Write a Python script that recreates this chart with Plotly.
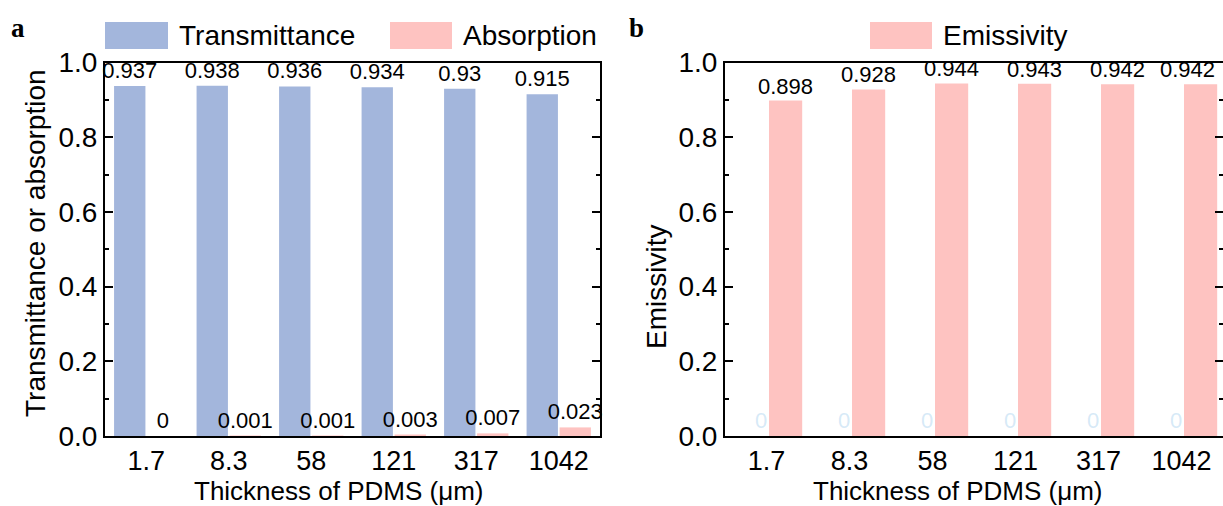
import plotly.graph_objects as go

# ---- data ----
thickness = ["1.7", "8.3", "58", "121", "317", "1042"]
transmittance = [0.937, 0.938, 0.936, 0.934, 0.93, 0.915]
absorption = [0, 0.001, 0.001, 0.003, 0.007, 0.023]
emissivity = [0.898, 0.928, 0.944, 0.943, 0.942, 0.942]
hidden_b = [0, 0, 0, 0, 0, 0]

BLUE = "#A3B6DC"
PINK = "#FEC3C1"
FONT = "Liberation Sans, Arial, sans-serif"
W, H = 1223, 506
TICK = 27
TITLE = 28
BARLAB = 22

def lab(vals):
    return [f"{v:g}" for v in vals]

fig = go.Figure()
common = dict(textposition="outside", cliponaxis=False, constraintext="none",
              textfont=dict(family=FONT, size=BARLAB, color="black"), showlegend=False)
fig.add_trace(go.Bar(x=thickness, y=transmittance, text=lab(transmittance),
                     marker=dict(color=BLUE, line=dict(width=0)), xaxis="x", yaxis="y", **common))
fig.add_trace(go.Bar(x=thickness, y=absorption, text=lab(absorption),
                     marker=dict(color=PINK, line=dict(width=0)), xaxis="x", yaxis="y", **common))
common_h = dict(common)
common_h["textfont"] = dict(family=FONT, size=BARLAB, color="rgba(150,200,235,0.4)")
fig.add_trace(go.Bar(x=thickness, y=hidden_b, text=lab(hidden_b), width=0.1, offset=-0.115,
                     marker=dict(color="rgba(0,0,0,0)", line=dict(width=0)), xaxis="x2", yaxis="y2", **common_h))
fig.add_trace(go.Bar(x=thickness, y=emissivity, width=0.4, offset=0.03,
                     marker=dict(color=PINK, line=dict(width=0)), xaxis="x2", yaxis="y2", showlegend=False))

# emissivity value labels (last one nudged left as in the original figure)
label_shift_b = [0, 0, 0, 0, 0, -13]
for i, (v, sh) in enumerate(zip(emissivity, label_shift_b)):
    fig.add_annotation(xref="x2", yref="y2", x=i + 0.23, y=v, xshift=sh, yshift=1,
                       xanchor="center", yanchor="bottom", text=f"{v:g}", showarrow=False,
                       borderpad=0, font=dict(family=FONT, size=BARLAB, color="black"))

ydom = [1 - 436 / H, 1 - 62.5 / H]
xa = dict(type="category", range=[-0.5, len(thickness) - 0.5], showline=True, linewidth=2,
          linecolor="black", mirror=True,
          ticks="", showgrid=False, zeroline=False, automargin=False,
          tickfont=dict(family=FONT, size=TICK, color="black"))
ya = dict(range=[0, 1], dtick=0.2, tickformat=".1f", ticks="inside", ticklen=8, tickwidth=2,
          tickcolor="black", showline=True, linewidth=2, linecolor="black", mirror="ticks",
          showgrid=False, zeroline=False, automargin=False,
          minor=dict(ticks="inside", ticklen=4, tickwidth=2, tickcolor="black", dtick=0.1),
          tickfont=dict(family=FONT, size=28, color="black"))

fig.update_layout(
    template="none",
    font=dict(family=FONT, color="black"),
    width=W, height=H, margin=dict(l=0, r=0, t=0, b=0, pad=0), autosize=False,
    plot_bgcolor="white", paper_bgcolor="white",
    barmode="group", bargap=0.2, bargroupgap=0.05,
    xaxis=dict(domain=[105 / W, 600 / W], anchor="y", **xa),
    yaxis=dict(domain=ydom, anchor="x", **ya),
    xaxis2=dict(domain=[725 / W, 1.0], anchor="y2", **xa),
    yaxis2=dict(domain=ydom, anchor="x2", **ya),
)

def px(x):
    return x / W

def py(y):
    return 1 - y / H

# custom legends (large swatches)
legend_items = [(105, 168, "Transmittance", BLUE), (390, 452, "Absorption", PINK), (870, 932, "Emissivity", PINK)]
for x0, x1, name, col in legend_items:
    fig.add_shape(type="rect", xref="paper", yref="paper", x0=px(x0), x1=px(x1), y0=py(49), y1=py(22),
                  fillcolor=col, line=dict(width=0), layer="above")
    fig.add_annotation(xref="paper", yref="paper", x=px(x1 + 9), y=py(35.5), xanchor="left", yanchor="middle",
                       text=name, showarrow=False, font=dict(family=FONT, size=TITLE, color="black"))

# panel letters
for x, t in [(9, "a"), (627, "b")]:
    fig.add_annotation(xref="paper", yref="paper", x=px(x), y=py(28), xanchor="left", yanchor="middle",
                       text=f"<b>{t}</b>", showarrow=False,
                       font=dict(family="Liberation Serif, Times New Roman, serif", size=27, color="black"))

# axis titles
for xc in (338, 957):
    fig.add_annotation(xref="paper", yref="paper", x=px(xc), y=py(491), xanchor="center", yanchor="middle",
                       text="Thickness of PDMS (μm)", showarrow=False, borderpad=0,
                       font=dict(family=FONT, size=26, color="black"))
fig.add_annotation(xref="paper", yref="paper", x=px(35), y=py(243), xanchor="center", yanchor="middle",
                   text="Transmittance or absorption", textangle=-90, showarrow=False,
                   font=dict(family=FONT, size=TITLE, color="black"))
fig.add_annotation(xref="paper", yref="paper", x=px(656), y=py(287), xanchor="center", yanchor="middle",
                   text="Emissivity", textangle=-90, showarrow=False,
                   font=dict(family=FONT, size=TITLE, color="black"))

fig.write_html("out.html")
